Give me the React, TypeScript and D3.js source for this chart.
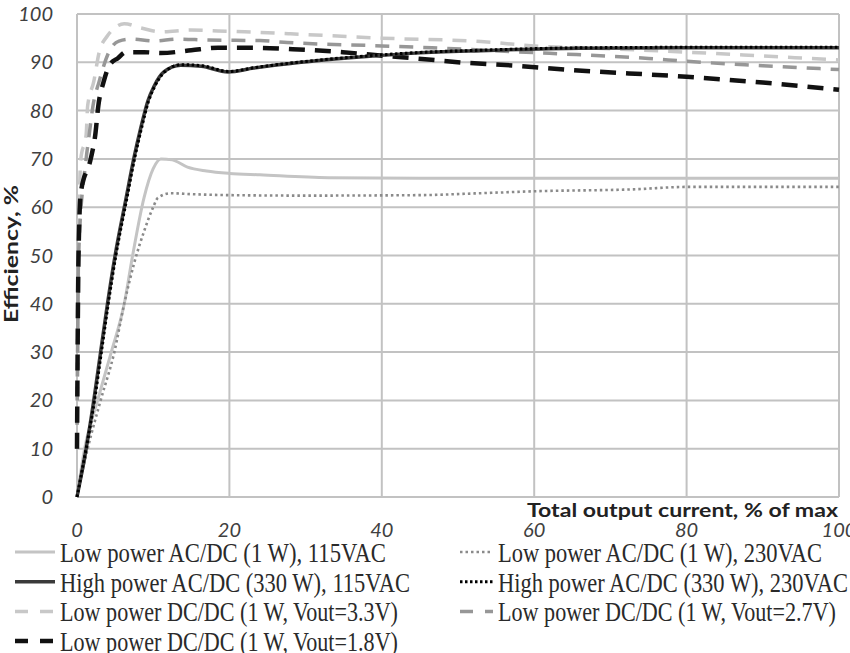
import React from "react";
import * as d3 from "d3";

const width = 850;
const height = 653;
const margin = { top: 14, right: 11, bottom: 156, left: 77 };

const xTicks = [0, 20, 40, 60, 80, 100];
const yTicks = [0, 10, 20, 30, 40, 50, 60, 70, 80, 90, 100];

// efficiency (%) vs. total output current (% of max)
const lowAc115: [number, number][] = [
  [0, 0], [1, 10], [2.7, 20], [4.5, 30], [6.2, 40], [7.3, 50], [8.8, 62], [10, 68],
  [11, 70], [12.5, 69.8], [14.5, 68.3], [17, 67.5], [20, 67], [24, 66.7], [33, 66.1],
  [45, 66], [60, 66], [80, 66], [100, 66],
];
const lowAc230: [number, number][] = [
  [0, 0], [1.4, 10], [3.1, 20], [4.9, 30], [6.2, 40], [7.5, 48.4], [8.8, 55], [10, 60],
  [10.6, 61.9], [12.3, 62.9], [15, 62.7], [20, 62.5], [30, 62.4], [45, 62.5], [53, 62.9],
  [60, 63.3], [73, 63.7], [80, 64.2], [100, 64.2],
];
const highAc115: [number, number][] = [
  [0, 0], [1.2, 10], [2.2, 20], [3.1, 30], [4, 40], [5, 50], [6.4, 61.5], [7.5, 70.4],
  [8.4, 76.6], [9.3, 82], [10.1, 85], [11.4, 88], [13.6, 89.4], [16.3, 89.2], [19.8, 88],
  [23.2, 88.8], [29.4, 90], [38, 91.2], [44.5, 91.9], [53, 92.4], [66, 92.9], [80, 93],
  [100, 93],
];
const highAc230: [number, number][] = [
  [0, 0], [1.2, 10], [2.3, 20], [3.2, 30], [4.1, 40], [5.1, 50], [6.5, 61.5], [7.6, 70.4],
  [8.5, 76.6], [9.4, 82], [10.2, 85], [11.5, 88], [13.7, 89.5], [16.4, 89.3], [19.9, 88.1],
  [23.3, 88.9], [29.5, 90.1], [38, 91.3], [44.5, 92], [53, 92.5], [66, 93], [80, 93.1],
  [100, 93.1],
];
const dc33: [number, number][] = [
  [0, 10], [0.2, 50], [0.5, 70], [1.2, 75], [1.4, 81], [2.2, 86], [2.9, 92], [4, 95.5],
  [5.1, 97.3], [6.2, 98], [8.4, 97.1], [11, 96.3], [15, 96.7], [18.5, 96.5], [22, 96.3],
  [28, 95.9], [40, 95], [53, 94.3], [60, 93.4], [70, 92.8], [80, 92.1], [90, 91.3],
  [100, 90.5],
];
const dc27: [number, number][] = [
  [0, 10], [0.2, 50], [1.2, 70], [1.6, 75], [2.1, 81], [2.9, 86], [4.3, 92.5], [5.5, 94.4],
  [7.1, 94.8], [10.1, 94.4], [13.2, 94.8], [17.2, 94.6], [24, 94.5], [27.6, 94.1],
  [40, 93.4], [46.6, 93], [60, 92], [65.5, 91.6], [75, 90.8], [80, 90.2], [90, 89.3],
  [100, 88.5],
];
const dc18: [number, number][] = [
  [0, 10], [0.2, 50], [0.5, 63], [1.8, 70], [2.4, 75], [2.8, 81], [3.5, 86], [4.3, 89.5],
  [5.4, 90.9], [6.4, 92.1], [8.8, 92.1], [11, 91.9], [15, 92.5], [18.5, 93], [23, 93],
  [28.3, 92.7], [34.9, 92.1], [38.4, 91.6], [44.5, 90.8], [51, 89.9], [57.6, 89.3],
  [64, 88.5], [80, 87], [90, 85.8], [100, 84.3],
];

const labels = {
  lowAc115: "Low power AC/DC (1 W), 115VAC",
  lowAc230: "Low power AC/DC (1 W), 230VAC",
  highAc115: "High power AC/DC (330 W), 115VAC",
  highAc230: "High power AC/DC (330 W), 230VAC",
  dc33: "Low power DC/DC (1 W, Vout=3.3V)",
  dc27: "Low power DC/DC (1 W, Vout=2.7V)",
  dc18: "Low power DC/DC (1 W, Vout=1.8V)",
};

type Style = { color: string; w: number; dash?: string };
const styles: Record<string, Style> = {
  lowAc115: { color: "#c4c4c4", w: 3 },
  lowAc230: { color: "#8a8a8a", w: 2.6, dash: "2.5,3" },
  dc33: { color: "#c8c8c8", w: 3.5, dash: "14,10" },
  dc27: { color: "#979797", w: 3.5, dash: "14,10" },
  dc18: { color: "#111", w: 4.5, dash: "16,10" },
  highAc115: { color: "#3a3a3a", w: 3.5 },
  highAc230: { color: "#000", w: 3, dash: "2.5,2.5" },
};

const plotOrder: [string, [number, number][]][] = [
  ["lowAc115", lowAc115],
  ["lowAc230", lowAc230],
  ["dc33", dc33],
  ["dc27", dc27],
  ["dc18", dc18],
  ["highAc115", highAc115],
  ["highAc230", highAc230],
];

const legendLeft = ["lowAc115", "highAc115", "dc33", "dc18"];
const legendRight = ["lowAc230", "highAc230", "dc27"];
const legendLenLeft = [326, 350, 338, 338];
const legendLenRight = [324, 350, 338];

const tickFont = "Lato, 'Open Sans', sans-serif";

const App: React.FC = () => {
  const x = d3
    .scaleLinear()
    .domain([0, 100])
    .range([margin.left, width - margin.right]);
  const y = d3
    .scaleLinear()
    .domain([0, 100])
    .range([height - margin.bottom, margin.top]);

  const line = d3
    .line<[number, number]>()
    .x((d) => x(d[0]))
    .y((d) => y(d[1]))
    .curve(d3.curveMonotoneX);

  const rowY = (i: number) => 552 + i * 29.7;

  const legendItem = (key: string, i: number, x0: number, x1: number, tx: number, len: number) => {
    const s = styles[key];
    const isDash = s.dash && !s.dash.startsWith("2");
    return (
      <g key={key}>
        <line
          x1={x0}
          x2={x1}
          y1={rowY(i)}
          y2={rowY(i)}
          stroke={s.color}
          strokeWidth={s.w}
          strokeDasharray={isDash ? "13,12" : s.dash}
        />
        <text
          x={tx}
          y={rowY(i) + 10}
          fontFamily="'Liberation Serif', 'Times New Roman', serif"
          fontSize={27}
          fill="#2a2a2a"
          textLength={len}
          lengthAdjust="spacingAndGlyphs"
        >
          {labels[key as keyof typeof labels]}
        </text>
      </g>
    );
  };

  return (
    <svg
      width={width}
      height={height}
      style={{ position: "absolute", left: 0, top: 0, background: "#fff" }}
    >
      {/* grid */}
      {yTicks.map((t) => (
        <line
          key={"gy" + t}
          x1={x(0)}
          x2={x(100)}
          y1={y(t)}
          y2={y(t)}
          stroke="#c2c2c2"
          strokeWidth={2}
        />
      ))}
      {xTicks.map((t) => (
        <line
          key={"gx" + t}
          x1={x(t)}
          x2={x(t)}
          y1={y(0)}
          y2={y(100)}
          stroke="#c2c2c2"
          strokeWidth={2}
        />
      ))}

      {plotOrder.map(([key, data]) => {
        const s = styles[key];
        return (
          <path
            key={key}
            d={line(data) || ""}
            fill="none"
            stroke={s.color}
            strokeWidth={s.w}
            strokeDasharray={s.dash}
            strokeLinejoin="round"
          />
        );
      })}

      {/* tick labels */}
      {yTicks.map((t) => (
        <text
          key={"ty" + t}
          x={53}
          y={y(t)}
          dy="0.35em"
          textAnchor="end"
          fontFamily={tickFont}
          fontStyle="italic"
          fontSize={20}
          fill="#404040"
        >
          {t}
        </text>
      ))}
      {xTicks.map((t) => (
        <text
          key={"tx" + t}
          x={x(t)}
          y={537}
          textAnchor="middle"
          fontFamily={tickFont}
          fontStyle="italic"
          fontSize={20}
          fill="#404040"
        >
          {t}
        </text>
      ))}

      {/* axis titles */}
      <text
        transform="translate(18,254) rotate(-90)"
        textAnchor="middle"
        fontFamily={tickFont}
        fontWeight="bold"
        fontSize={19}
        fill="#222"
        textLength={138}
        lengthAdjust="spacingAndGlyphs"
      >
        Efficiency, %
      </text>
      <text
        x={838}
        y={517}
        textAnchor="end"
        fontFamily={tickFont}
        fontWeight="bold"
        fontSize={18}
        fill="#222"
        textLength={311}
        lengthAdjust="spacingAndGlyphs"
      >
        Total output current, % of max
      </text>

      {/* legend */}
      {legendLeft.map((k, i) => legendItem(k, i, 15, 55, 60, legendLenLeft[i]))}
      {legendRight.map((k, i) => legendItem(k, i, 460, 493, 498, legendLenRight[i]))}
    </svg>
  );
};

export default App;
